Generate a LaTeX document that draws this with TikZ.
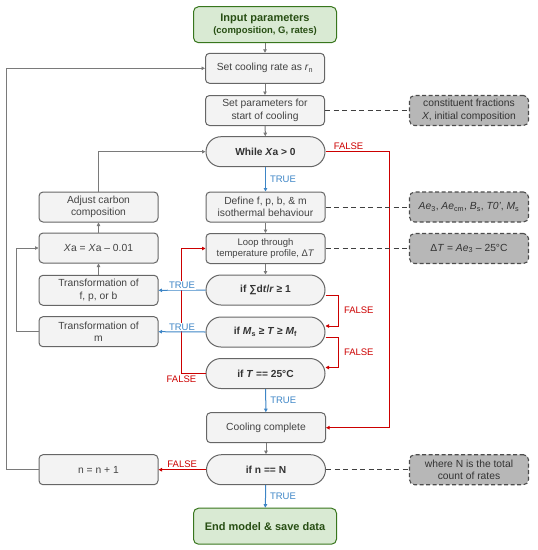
\documentclass[tikz,border=0pt]{standalone}
\usepackage{fontspec}
\setmainfont{Liberation Sans}
\usepackage{tikz}
\usetikzlibrary{positioning}
\usetikzlibrary{arrows.meta}

\definecolor{verdefondo}{HTML}{D9EAD3}
\definecolor{verdeborde}{HTML}{38761D}
\definecolor{verdetexto}{HTML}{274E13}
\definecolor{grisfondo}{HTML}{F3F3F3}
\definecolor{grisborde}{HTML}{666666}
\definecolor{gristexto}{HTML}{434343}
\definecolor{notafondo}{HTML}{B7B7B7}
\definecolor{rojo}{HTML}{CC0000}
\definecolor{azul}{HTML}{3D85C6}
\definecolor{gris}{HTML}{7A7A7A}

\begin{document}
\begin{tikzpicture}[x=1pt, y=-1pt, >={Triangle[length=3.5pt,width=3.5pt]},
    caja/.style={draw=grisborde, fill=grisfondo, line width=1pt, rounded corners=4pt,
      minimum width=119pt, minimum height=30pt, inner sep=1pt, align=center,
      text=gristexto, font=\fontsize{10.3}{12.5}\selectfont},
    cond/.style={caja, rounded corners=15pt, text=black!80,
      font=\fontsize{10.2}{12}\selectfont\bfseries},
    term/.style={draw=verdeborde, fill=verdefondo, line width=1pt, rounded corners=5pt,
      minimum width=143pt, minimum height=36pt, inner sep=1pt, align=center,
      text=verdetexto, font=\fontsize{11}{13}\selectfont\bfseries},
    nota/.style={caja, fill=notafondo, draw=black!70, line width=1.1pt,
      dash pattern=on 4pt off 2.5pt, rounded corners=5pt, text=black!80},
    flecha/.style={->, gris, line width=1pt},
    verdad/.style={->, azul, line width=1pt},
    falso/.style={->, rojo, line width=1pt},
    enlace/.style={black!75, line width=1pt, dash pattern=on 5pt off 3.5pt},
    etiqueta/.style={font=\fontsize{9.5}{11}\selectfont, inner sep=2pt}]
  \useasboundingbox (0,0) rectangle (538,550);

  % Nodos
  \node[term] (input) at (265,24.7) {Input parameters\\[-1pt]{\fontsize{9.5}{11}\selectfont\bfseries (composition, G, rates)}};
  \node[caja] (rate) at (265,68.3) {Set cooling rate as \textit{r}\textsubscript{n}};
  \node[caja] (setp) at (265,110.5) {Set parameters for\\start of cooling};
  \node[cond] (while) at (265.5,151.7) {While \textit{X}a > 0};
  \node[caja] (define) at (265.5,207) {Define f, p, b, \& m\\isothermal behaviour};
  \node[caja, font=\fontsize{9.5}{11}\selectfont] (loop) at (265.5,248.5) {Loop through\\temperature profile, Δ\textit{T}};
  \node[cond] (ifsum) at (265.5,290) {if ∑d\textit{t}/\textit{r} ≥ 1};
  \node[cond] (ifms) at (265.5,332) {if \textit{M}\textsubscript{s} ≥ \textit{T} ≥ \textit{M}\textsubscript{f}};
  \node[cond] (ift) at (265.5,373.5) {if \textit{T} == 25°C};
  \node[caja] (cool) at (266,427.7) {Cooling complete};
  \node[cond] (ifn) at (266,469.7) {if n == N};
  \node[term] (endm) at (265,526.2) {End model \& save data};

  \node[caja] (adjust) at (98.5,207) {Adjust carbon\\composition};
  \node[caja] (xa) at (98.5,248) {\textit{X}a = \textit{X}a – 0.01};
  \node[caja] (tfpb) at (98.5,290.3) {Transformation of\\f, p, or b};
  \node[caja] (tm) at (98.5,331.7) {Transformation of\\m};
  \node[caja] (nn) at (98.5,469.7) {n = n + 1};

  % Notas
  \node[nota] (n1) at (469,110.5) {constituent fractions\\\textit{X}, initial composition};
  \node[nota] (n2) at (469,207) {\textit{Ae}\textsubscript{3}, \textit{Ae}\textsubscript{cm}, \textit{B}\textsubscript{s}, \textit{T0'}, \textit{M}\textsubscript{s}};
  \node[nota] (n3) at (469,248.5) {Δ\textit{T} = \textit{Ae}\textsubscript{3} – 25°C};
  \node[nota] (n4) at (469,469.7) {where N is the total\\count of rates};

  % Aristas
  \draw[flecha] (input) -- (rate);
  \draw[flecha] (rate) -- (setp);
  \draw[flecha] (setp) -- (while);
  \draw[verdad] (while) -- node[right, etiqueta, xshift=2pt] {TRUE} (define);
  \draw[flecha] (define) -- (loop);
  \draw[flecha] (loop) -- (ifsum);
  \draw[falso] (while.east) -- node[above, etiqueta, pos=0.36] {FALSE} ++(64,0) |- (cool.east);
  \draw[falso] ([yshift=-5pt]ifsum.east) -- ++(13,0) |- node[right, etiqueta, pos=0.25, xshift=3pt] {FALSE} ([yshift=6pt]ifms.east);
  \draw[falso] ([yshift=-5pt]ifms.east) -- ++(13,0) |- node[right, etiqueta, pos=0.25, xshift=3pt] {FALSE} ([yshift=6pt]ift.east);
  \draw[falso] (ift.west) -- ++(-24,0) node[below, etiqueta] {FALSE} |- (loop.west);
  \draw[verdad] (ifsum.west) -- node[above, etiqueta, fill=white, inner sep=1pt] {TRUE} (tfpb.east);
  \draw[verdad] (ifms.west) -- node[above, etiqueta, fill=white, inner sep=1pt] {TRUE} (tm.east);
  \draw[verdad] (ift) -- node[right, etiqueta, xshift=2pt] {TRUE} (cool);
  \draw[flecha] (cool) -- (ifn);
  \draw[verdad] (ifn) -- node[right, etiqueta, xshift=2pt] {TRUE} (endm);
  \draw[falso] (ifn.west) -- node[above, etiqueta] {FALSE} (nn.east);
  \draw[flecha] (tfpb) -- (xa);
  \draw[flecha] (xa) -- (adjust);
  \draw[flecha] (adjust.north) |- (while.west);
  \draw[flecha] (tm.west) -- ++(-22,0) |- (xa.west);
  \draw[flecha] (nn.west) -- ++(-32.5,0) |- (rate.west);

  \draw[enlace] (setp) -- (n1);
  \draw[enlace] (define) -- (n2);
  \draw[enlace] (loop) -- (n3);
  \draw[enlace] (ifn) -- (n4);
\end{tikzpicture}
\end{document}
